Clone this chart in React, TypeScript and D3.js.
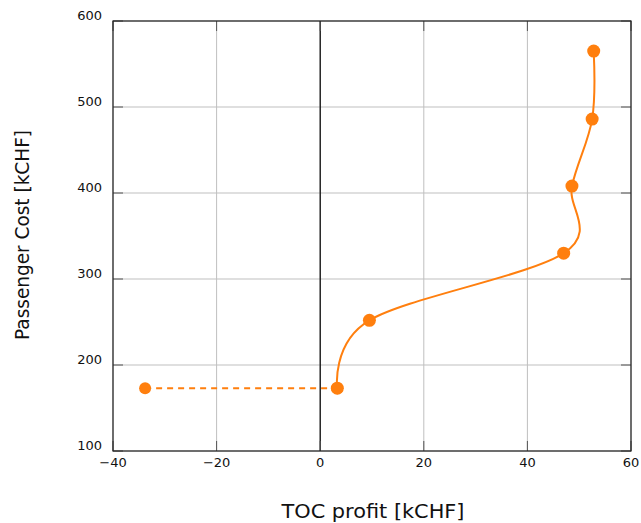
import React from "react";
import * as d3 from "d3";

const solidX = [3.3, 9.5, 47.0, 48.6, 52.5, 52.8];
const solidY = [173, 252, 330, 408, 486, 565];
const dashedX = [-33.8, 3.3];
const dashedY = [173, 173];
const xTicks = [-40, -20, 0, 20, 40, 60];
const yTicks = [100, 200, 300, 400, 500, 600];
const xLabel = "TOC profit [kCHF]";
const yLabel = "Passenger Cost [kCHF]";

const W = 641, H = 523;
const L = 113, R = 631, T = 21, B = 451;
const ORANGE = "#ff7f0e";
const FONT = "'DejaVu Sans', sans-serif";

export default function App() {
  const x = d3.scaleLinear().domain([-40, 60]).range([L, R]);
  const y = d3.scaleLinear().domain([100, 600]).range([B, T]);
  const solid = solidX.map((v, i) => [x(v), y(solidY[i])] as [number, number]);
  const dashed = dashedX.map((v, i) => [x(v), y(dashedY[i])] as [number, number]);
  const smooth = d3.line().curve(d3.curveCardinal.tension(0))(solid) || "";
  const straight = d3.line()(dashed) || "";
  const fmt = (v: number) => (v < 0 ? "\u2212" + Math.abs(v) : String(v));
  const tk = 10;
  return (
    <svg width={W} height={H} style={{ position: "absolute", left: 0, top: 0, background: "#fff" }}>
      {xTicks.map((t) => (
        <line key={"gx" + t} x1={x(t)} x2={x(t)} y1={T} y2={B} stroke="#bfbfbf" strokeWidth={1} />
      ))}
      {yTicks.map((t) => (
        <line key={"gy" + t} x1={L} x2={R} y1={y(t)} y2={y(t)} stroke="#bfbfbf" strokeWidth={1} />
      ))}
      <line x1={x(0)} x2={x(0)} y1={T} y2={B} stroke="#000" strokeWidth={1.2} />
      {xTicks.map((t) => (
        <g key={"tx" + t}>
          <line x1={x(t)} x2={x(t)} y1={B} y2={B - tk} stroke="#555" strokeWidth={1} />
          <line x1={x(t)} x2={x(t)} y1={T} y2={T + tk} stroke="#555" strokeWidth={1} />
          <text x={x(t)} y={467} textAnchor="middle" fontFamily={FONT} fontSize={13} fill="#111">
            {fmt(t)}
          </text>
        </g>
      ))}
      {yTicks.map((t) => (
        <g key={"ty" + t}>
          <line x1={L} x2={L + tk} y1={y(t)} y2={y(t)} stroke="#555" strokeWidth={1} />
          <line x1={R} x2={R - tk} y1={y(t)} y2={y(t)} stroke="#555" strokeWidth={1} />
          <text x={102} y={y(t) - 1} textAnchor="end" fontFamily={FONT} fontSize={13} fill="#111">
            {fmt(t)}
          </text>
        </g>
      ))}
      <rect x={L} y={T} width={R - L} height={B - T} fill="none" stroke="#222" strokeWidth={1.2} />
      <path d={straight} fill="none" stroke={ORANGE} strokeWidth={2} strokeDasharray="6,5" />
      <path d={smooth} fill="none" stroke={ORANGE} strokeWidth={2} />
      {dashed.map((p, i) => (
        <circle key={"dc" + i} cx={p[0]} cy={p[1]} r={6} fill={ORANGE} />
      ))}
      {solid.map((p, i) => (
        <circle key={"sc" + i} cx={p[0]} cy={p[1]} r={6.5} fill={ORANGE} />
      ))}
      <text
        x={(L + R) / 2 + 1}
        y={518}
        textAnchor="middle"
        fontFamily={FONT}
        fontSize={20}
        textLength={183}
        lengthAdjust="spacingAndGlyphs"
        fill="#111"
      >
        {xLabel}
      </text>
      <text
        transform={`translate(29, ${(T + B) / 2 - 1}) rotate(-90)`}
        textAnchor="middle"
        fontFamily={FONT}
        fontSize={20}
        textLength={210}
        lengthAdjust="spacingAndGlyphs"
        fill="#111"
      >
        {yLabel}
      </text>
    </svg>
  );
}
